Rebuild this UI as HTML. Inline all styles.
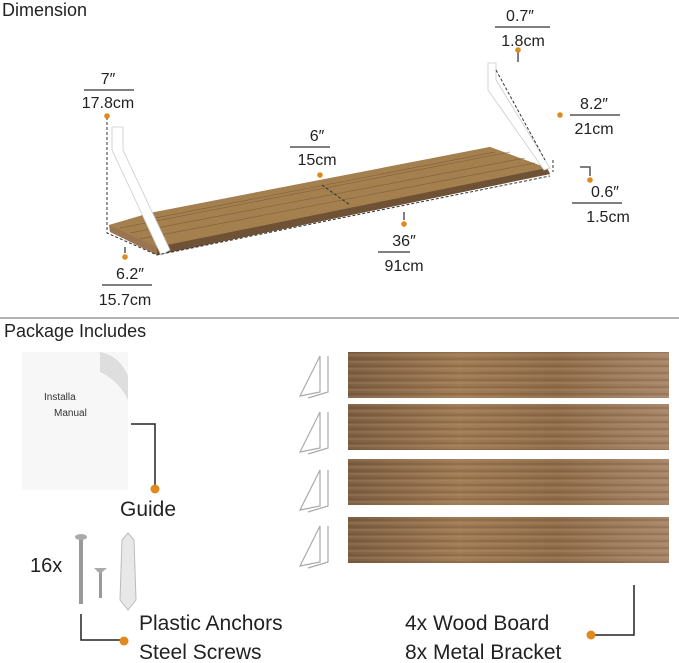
<!DOCTYPE html>
<html><head><style>
html,body{margin:0;padding:0;background:#fff;}
svg{display:block;font-family:"Liberation Sans",sans-serif;}
</style></head><body>
<svg width="679" height="663" viewBox="0 0 679 663">
<defs>
<linearGradient id="wd" x1="0" y1="0" x2="1" y2="0">
<stop offset="0" stop-color="#7d5f42"/><stop offset=".35" stop-color="#a07b55"/><stop offset=".65" stop-color="#8f6d4a"/><stop offset="1" stop-color="#a8876a"/></linearGradient>
<pattern id="grain" width="700" height="7" patternUnits="userSpaceOnUse">
<line x1="0" y1="2" x2="700" y2="2" stroke="#4a3220" stroke-width=".8" opacity=".45"/><line x1="0" y1="5" x2="700" y2="5" stroke="#c9a47e" stroke-width=".7" opacity=".45"/></pattern>
</defs>
<text x="2" y="16" font-size="18" fill="#222">Dimension</text>
<!-- shelf -->
<polygon points="109,225 150,213 490,147 547,168 550,174 157,255 110,232" fill="#9a7550"/>
<polygon points="109,225 150,213 490,147 547,168 157,247" fill="#a5804f"/>
<g stroke="#6e4f32" stroke-width=".7" opacity=".6">
<line x1="120" y1="228" x2="510" y2="152"/><line x1="130" y1="233" x2="525" y2="158"/><line x1="140" y1="239" x2="535" y2="163"/><line x1="145" y1="220" x2="495" y2="152"/></g>
<polygon points="157,247 547,168 550,174 157,255" fill="#6f5236"/>
<polygon points="112,127 123,127 123,150 170,250 161,255 112,150" fill="#fff" stroke="#ccc" stroke-width=".8"/>
<polygon points="488,63 496,63 496,80 550,168 544,170 488,90" fill="#fff" stroke="#ccc" stroke-width=".8"/>
<g stroke="#333" stroke-width="1" stroke-dasharray="3,2" fill="none">
<polyline points="107,117 107,233 157,255 550,176"/>
<line x1="322" y1="185" x2="350" y2="205"/>
<line x1="496" y1="70" x2="545" y2="160"/>
<line x1="553" y1="160" x2="553" y2="172"/>
</g>
<g stroke="#555" stroke-width="1.5">
<line x1="84" y1="90" x2="134" y2="90"/><line x1="290" y1="147" x2="330" y2="147"/>
<line x1="378" y1="252" x2="410" y2="252"/><line x1="102" y1="285" x2="152" y2="285"/>
<line x1="495" y1="27" x2="550" y2="27"/><line x1="570" y1="115" x2="620" y2="115"/>
<line x1="572" y1="203" x2="622" y2="203"/>
<line x1="404" y1="212" x2="404" y2="220"/><line x1="125" y1="247" x2="125" y2="253"/>
<polyline points="580,167 590,167 590,176" fill="none"/>
<line x1="518" y1="52" x2="518" y2="62"/>
</g>
<g fill="#e08a1e">
<circle cx="107" cy="116" r="2.8"/><circle cx="320" cy="175" r="2.8"/><circle cx="404" cy="224" r="2.8"/>
<circle cx="125" cy="257" r="2.8"/><circle cx="518" cy="50" r="2.8"/><circle cx="560" cy="115" r="2.8"/><circle cx="590" cy="180" r="2.8"/>
</g>
<g fill="#222" font-size="16" text-anchor="middle">
<text x="108" y="84">7″</text><text x="108" y="108">17.8cm</text>
<text x="317" y="141">6″</text><text x="317" y="165">15cm</text>
<text x="404" y="246">36″</text><text x="404" y="271">91cm</text>
<text x="130" y="279">6.2″</text><text x="125" y="305">15.7cm</text>
<text x="520" y="21">0.7″</text><text x="523" y="46">1.8cm</text>
<text x="594" y="109">8.2″</text><text x="594" y="134">21cm</text>
<text x="605" y="197">0.6″</text><text x="608" y="222">1.5cm</text>
</g>
<line x1="0" y1="318" x2="679" y2="318" stroke="#888" stroke-width="1.3"/>
<text x="4" y="337" font-size="18" fill="#222">Package Includes</text>
<rect x="22" y="352" width="106" height="138" fill="#f7f7f7"/>
<path d="M100,352 Q120,356 128,376 L128,400 Q118,380 100,372 Z" fill="#dedede"/>
<text x="44" y="400" font-size="10" fill="#333">Installa</text>
<text x="54" y="416" font-size="10" fill="#333">Manual</text>
<polyline points="131,424 155,424 155,488" fill="none" stroke="#222" stroke-width="1.5"/>
<circle cx="155" cy="489" r="4.5" fill="#e08a1e"/>
<text x="120" y="516" font-size="21" fill="#222">Guide</text>
<text x="30" y="572" font-size="20" fill="#222">16x</text>
<rect x="79" y="538" width="4" height="66" fill="#999"/><ellipse cx="81" cy="537" rx="6" ry="3" fill="#aaa"/>
<rect x="99" y="570" width="3" height="28" fill="#999"/><polygon points="94,568 107,568 100,574" fill="#aaa"/>
<path d="M122,540 L128,533 L134,540 L136,600 L128,610 L120,600 Z" fill="#e8e8e8" stroke="#bbb"/>
<polyline points="81,614 81,640 120,640" fill="none" stroke="#222" stroke-width="1.5"/>
<circle cx="124" cy="641" r="4.5" fill="#e08a1e"/>
<text x="139" y="630" font-size="21" fill="#222">Plastic Anchors</text>
<text x="139" y="659" font-size="21" fill="#222">Steel Screws</text>
<g>
<rect x="348" y="352" width="321" height="46" fill="url(#wd)"/><rect x="348" y="352" width="321" height="46" fill="url(#grain)"/>
<rect x="348" y="404" width="321" height="46" fill="url(#wd)"/><rect x="348" y="404" width="321" height="46" fill="url(#grain)"/>
<rect x="348" y="459" width="321" height="46" fill="url(#wd)"/><rect x="348" y="459" width="321" height="46" fill="url(#grain)"/>
<rect x="348" y="517" width="321" height="46" fill="url(#wd)"/><rect x="348" y="517" width="321" height="46" fill="url(#grain)"/>
</g>
<g fill="none" stroke="#aaa" stroke-width="1.2">
<path d="M320,356 L320,392 L300,396 Z M328,356 L328,392 L308,398"/>
<path d="M320,412 L320,448 L300,452 Z M328,412 L328,448 L308,454"/>
<path d="M320,470 L320,506 L300,510 Z M328,470 L328,506 L308,512"/>
<path d="M320,526 L320,562 L300,566 Z M328,526 L328,562 L308,568"/>
</g>
<polyline points="634,585 634,635 595,635" fill="none" stroke="#222" stroke-width="1.5"/>
<circle cx="591" cy="635" r="4.5" fill="#e08a1e"/>
<text x="405" y="630" font-size="21" fill="#222">4x Wood Board</text>
<text x="405" y="659" font-size="21" fill="#222">8x Metal Bracket</text>
</svg>
</body></html>
